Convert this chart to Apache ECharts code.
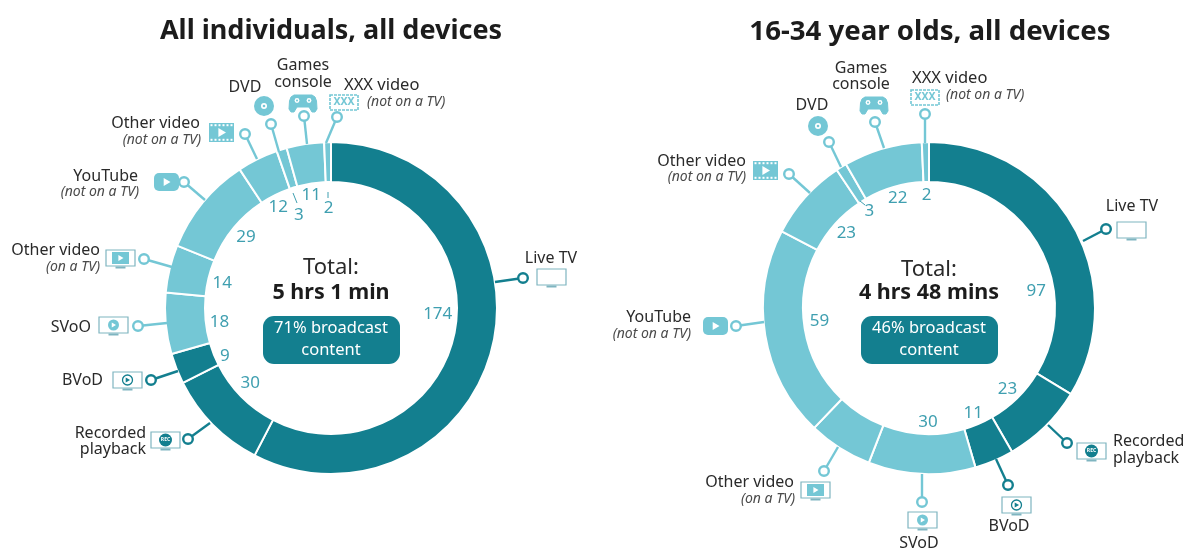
<!DOCTYPE html>
<html>
<head>
<meta charset="utf-8">
<style>html,body{margin:0;padding:0;background:#fff}#c{width:1185px;height:549px}</style>
<script src="https://cdn.jsdelivr.net/npm/echarts@6/dist/echarts.min.js"></script>
</head>
<body>
<div id="c"></div>
<script>
const categories = ['Live TV','Recorded playback','BVoD','SVoD','Other video (on a TV)','YouTube (not on a TV)','Other video (not on a TV)','DVD','Games console','XXX video (not on a TV)'];
const allValues = [174,30,9,18,14,29,12,3,11,2];
const youngValues = [97,23,11,30,18,59,23,3,22,2];
const allShown = [174,30,9,18,14,29,12,3,11,2];
const youngShown = [97,23,11,30,null,59,23,3,22,2];
const titles = ['All individuals, all devices','16-34 year olds, all devices'];
const totals = ['5 hrs 1 min','4 hrs 48 mins'];
const shares = ['71% broadcast','46% broadcast'];

const DARK='#137f8f', LIGHT='#74c7d5', NUM='#3f9fb0', INK='#2a2a2a', SOFT='#4a4a4a', TVLINE='#7fb5c0';
const FONT='"Noto Sans", sans-serif';
const isDark = i => i < 3;
const c1=[331,308], c2=[929,308];
const allNudge = {0:[-5,-21],1:[1,-6],2:[1,6],3:[3,3],4:[3,2],5:[4,2],6:[-2,2],7:[2,17],8:[-2,1],9:[0,15]};
const youngNudge = {0:[7,40],1:[-2,-1],2:[-1,-1],3:[4,-1],5:[4,-6],6:[3,2],7:[1,1],8:[1,1],9:[0,2]};

function ring(center, vals){
  return {type:'pie',center,radius:[126,166],startAngle:90,clockwise:true,silent:true,
    label:{show:false},labelLine:{show:false},
    data:vals.map((v,i)=>({name:categories[i],value:v,
      itemStyle:{color:isDark(i)?DARK:LIGHT,borderColor:'#fff',borderWidth:2}}))};
}
function numbers(center, vals, shown, nudge){
  return {type:'pie',center,radius:[106,118],startAngle:90,clockwise:true,silent:true,z:4,
    itemStyle:{color:'rgba(0,0,0,0)'},labelLine:{show:false},
    labelLayout:p=>{const n=nudge[p.dataIndex]||[0,0];return {dx:n[0],dy:n[1]};},
    data:vals.map((v,i)=>({name:categories[i],value:v,
      label:{show:shown[i]!==null,position:'inside',formatter:String(shown[i]),color:NUM,fontSize:17,fontFamily:FONT}}))};
}

const g=[];
function txt(x,y,s,o={}){
  g.push({type:'text',z:20,x,y,style:{text:s,fill:o.fill||INK,font:`${o.style||'normal'} ${o.weight||'normal'} ${o.size||16}px ${FONT}`,
    textAlign:o.align||'center',textVerticalAlign:'middle'}});
}
function line(p,q,col,w=2.4){
  g.push({type:'line',z:12,shape:{x1:p[0],y1:p[1],x2:q[0],y2:q[1]},style:{stroke:col,lineWidth:w}});
}
function leader(r,end,col){
  line(r,end,col);
  g.push({type:'circle',z:13,shape:{cx:r[0],cy:r[1],r:4.8},style:{fill:'#fff',stroke:col,lineWidth:2.4}});
}
function tri(x,y,s,fill){
  g.push({type:'polygon',z:15,shape:{points:[[x-s*0.7,y-s],[x+s,y],[x-s*0.7,y+s]]},style:{fill}});
}
function circ(x,y,r,fill){g.push({type:'circle',z:15,shape:{cx:x,cy:y,r},style:{fill}});}
function rect(x,y,w,h,st,r=0){g.push({type:'rect',z:14,shape:{x,y,width:w,height:h,r},style:st});}
function tv(x,y,kind,dark){
  const w=29,h=16;
  rect(x,y,w,h,{fill:'#fff',stroke:TVLINE,lineWidth:1.2});
  rect(x+w/2-5,y+h+0.5,10,2,{fill:TVLINE});
  const cx=x+w/2, cy=y+h/2;
  if(kind==='play'){circ(cx,cy,5.5,LIGHT);tri(cx,cy,2.5,'#fff');}
  if(kind==='rec'){circ(cx,cy,6.5,DARK);g.push({type:'text',z:16,x:cx,y:cy,style:{text:'REC',fill:'#fff',font:`bold 5px ${FONT}`,textAlign:'center',textVerticalAlign:'middle'}});}
  if(kind==='bvod'){g.push({type:'circle',z:15,shape:{cx,cy,r:5},style:{fill:'#fff',stroke:DARK,lineWidth:1.3}});tri(cx,cy,2.6,DARK);}
  if(kind==='film'){rect(x+6,y+2,w-12,h-4,{fill:LIGHT});tri(cx,cy,3,'#fff');}
}
function yt(x,y){rect(x,y,25,18,{fill:LIGHT},5);tri(x+12.5,y+9,4,'#fff');}
function film(x,y){
  rect(x,y,25,19,{fill:LIGHT});tri(x+12.5,y+9.5,4.5,'#fff');
  for(let i=0;i<6;i++){rect(x+1.5+i*4,y+1.2,2,2,{fill:'#fff'});rect(x+1.5+i*4,y+15.8,2,2,{fill:'#fff'});}
}
function disc(x,y){circ(x,y,10,LIGHT);circ(x,y,3,'#fff');circ(x,y,1.3,LIGHT);
  line([x-6,y+6],[x-2.5,y+2.5],'#fff',1);line([x+2.5,y-2.5],[x+6,y-6],'#fff',1);}
function pad(x,y){
  const pts=[[5,0],[23,0],[26,2],[27.5,6],[28,14],[26,17],[23,17],[20,12],[8,12],[5,17],[2,17],[0,14],[0.5,6],[2,2]];
  g.push({type:'polygon',z:14,shape:{points:pts.map(p=>[x+p[0],y+p[1]])},style:{fill:LIGHT,stroke:LIGHT,lineWidth:1,lineJoin:'round'}});
  circ(x+8,y+5.5,2.4,'#fff');circ(x+20,y+5.5,2.4,'#fff');circ(x+8,y+5.5,1,LIGHT);circ(x+20,y+5.5,1,LIGHT);
}
function xxx(x,y){
  rect(x,y,28,15,{fill:'#fff',stroke:LIGHT,lineWidth:1.6,lineDash:[3,1]});
  g.push({type:'text',z:16,x:x+14,y:y+7.5,style:{text:'XXX',fill:LIGHT,font:`bold 10.5px ${FONT}`,textAlign:'center',textVerticalAlign:'middle'}});
}
function sub(x,y,s,align='right'){txt(x,y,s,{style:'italic',size:14,fill:SOFT,align});}
function center(cx,i,ty){
  txt(cx,ty,'Total:',{size:22});
  txt(cx,293,totals[i],{size:21.5,weight:'bold',fill:'#1c1c1c'});
  rect(cx-68,316,137,48,{fill:DARK},11);
  txt(cx,328,shares[i],{size:16.5,fill:'#fff'});
  txt(cx,350,'content',{size:16.5,fill:'#fff'});
}

/* left chart annotations */
center(331,0,268);
leader([523,278],[495,282],DARK); txt(551,258,'Live TV'); tv(537,269);
leader([188,439],[210,423],DARK); txt(146,433,'Recorded',{align:'right'}); txt(146,449,'playback',{align:'right'}); tv(151,432,'rec');
leader([151,380],[178,371],DARK); txt(103,380,'BVoD',{align:'right'}); tv(113,372,'bvod');
leader([138,326],[167,323],LIGHT); txt(91,327,'SVoO',{align:'right'}); tv(99,317,'play');
leader([144,259],[172,267],LIGHT); txt(100,250,'Other video',{align:'right'}); sub(100,267,'(on a TV)'); tv(106,250,'film');
leader([184,182],[205,200],LIGHT); txt(138,176,'YouTube',{align:'right'}); sub(139,192,'(not on a TV)'); yt(154,173);
leader([245,134],[257,159],LIGHT); txt(200,123,'Other video',{align:'right'}); sub(201,140,'(not on a TV)'); film(209,123);
leader([271,124],[279,152],LIGHT); txt(245,87,'DVD'); disc(264,106); line([293,193],[297,203],NUM,1);
leader([304,116],[307,144],LIGHT); txt(303,65,'Games'); txt(303,82,'console'); pad(289,95);
leader([337,117],[326,143],LIGHT); txt(344,85,'XXX video',{align:'left',size:16.5}); sub(367,102,'(not on a TV)','left'); xxx(330,95); line([328,192],[328,198],NUM,1);

/* right chart annotations */
center(929,1,270);
leader([1106,229],[1083,241],DARK); txt(1132,206,'Live TV'); tv(1117,222);
leader([1067,443],[1048,425],DARK); txt(1113,441,'Recorded',{align:'left'}); txt(1113,458,'playback',{align:'left'}); tv(1077,443,'rec');
leader([1008,485],[996,459],DARK); txt(1009,526,'BVoD'); tv(1002,497,'bvod');
leader([922,502],[922,474],LIGHT); txt(919,543,'SVoD'); tv(908,512,'play');
leader([824,471],[838,447],LIGHT); txt(794,482,'Other video',{align:'right'}); sub(795,499,'(on a TV)'); tv(801,482,'film');
leader([736,326],[764,322],LIGHT); txt(691,317,'YouTube',{align:'right'}); sub(691,334,'(not on a TV)'); yt(703,317);
leader([789,174],[810,193],LIGHT); txt(746,161,'Other video',{align:'right'}); sub(746,177,'(not on a TV)'); film(753,161);
leader([829,142],[841,167],LIGHT); txt(812,105,'DVD'); disc(818,126); line([860,201],[865,205],NUM,1);
leader([875,122],[884,148],LIGHT); txt(861,68,'Games'); txt(861,84,'console'); pad(860,97);
leader([925,114],[925,143],LIGHT); txt(912,78,'XXX video',{align:'left',size:16.5}); sub(946,95,'(not on a TV)','left'); xxx(911,90); 

const chart=echarts.init(document.getElementById('c'));
chart.setOption({
  animation:false,
  backgroundColor:'#fff',
  title:[
    {text:titles[0],left:326,top:13,textAlign:'center',textStyle:{fontFamily:FONT,fontSize:27,fontWeight:'bold',color:'#1c1c1c'}},
    {text:titles[1],left:925,top:13,textAlign:'center',textStyle:{fontFamily:FONT,fontSize:27.6,fontWeight:'bold',color:'#1c1c1c'}}
  ],
  series:[ring(c1,allValues),numbers(c1,allValues,allShown,allNudge),ring(c2,youngValues),numbers(c2,youngValues,youngShown,youngNudge)],
  graphic:{elements:g}
});
</script>
</body>
</html>
